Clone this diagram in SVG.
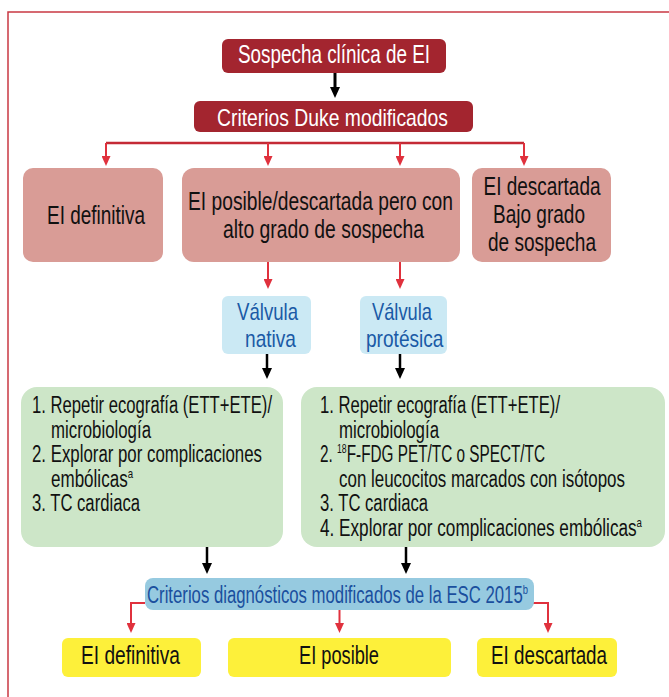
<svg xmlns="http://www.w3.org/2000/svg" width="669" height="697" viewBox="0 0 669 697">
<defs>
<style>
text{font-family:"Liberation Sans Narrow","Liberation Sans",Arial,sans-serif;}
.t25{font-size:25px;fill:#111;}
.tw{font-size:24px;fill:#fff;}
.tv{font-size:24px;fill:#1a5aa6;}
.tl{font-size:23px;fill:#111;}
.tb{font-size:23px;fill:#1a4f9e;}
.sup{font-size:13px;}
.dr{fill:#a3252f;}
.pk{fill:#d99c96;}
.lb{fill:#cbe9f4;}
.gr{fill:#cde6c8;}
.bb{fill:#96cae0;}
.ye{fill:#fdf03a;}
.rl{fill:none;stroke:#e0313d;stroke-width:2;}
.bl{fill:none;stroke:#000;stroke-width:2.5;}
</style>
<marker id="ra" viewBox="0 0 10 9" markerWidth="10" markerHeight="9" refX="2" refY="4.5" orient="auto" markerUnits="userSpaceOnUse"><path d="M0,0 L10,4.5 L0,9 z" fill="#e0313d"/></marker>
<marker id="ba" viewBox="0 0 11 10" markerWidth="11" markerHeight="10" refX="2" refY="5" orient="auto" markerUnits="userSpaceOnUse"><path d="M0,0 L11,5 L0,10 z" fill="#000"/></marker>
</defs>
<rect x="8" y="12" width="700" height="700" fill="none" stroke="#c93843" stroke-width="1.5"/>

<g id="connectors">
<path class="bl" style="stroke-width:3" d="M335,73 V89" marker-end="url(#ba)"/>
<path class="rl" style="stroke-width:2.5;stroke:#c42a35" d="M106,143 H524"/>
<path class="rl" d="M106,143 V158" marker-end="url(#ra)"/>
<path class="rl" d="M268,143 V158" marker-end="url(#ra)"/>
<path class="rl" d="M400,143 V158" marker-end="url(#ra)"/>
<path class="rl" d="M524,143 V158" marker-end="url(#ra)"/>
<path class="rl" d="M268,262 V281" marker-end="url(#ra)"/>
<path class="rl" d="M400,262 V281" marker-end="url(#ra)"/>
<path class="bl" d="M267,354 V370" marker-end="url(#ba)"/>
<path class="bl" d="M400,354 V370" marker-end="url(#ba)"/>
<path class="bl" d="M207,547 V565" marker-end="url(#ba)"/>
<path class="bl" d="M406,547 V565" marker-end="url(#ba)"/>
<path class="rl" d="M145,603 H131 V625" marker-end="url(#ra)"/>
<path class="rl" d="M339.5,610 V625" marker-end="url(#ra)"/>
<path class="rl" d="M533,603 H548 V625" marker-end="url(#ra)"/>
</g>

<g id="sospecha">
<rect class="dr" x="222" y="39" width="224" height="34" rx="6"/>
<text class="tw" style="font-size:25px" x="238" y="63" textLength="192" lengthAdjust="spacingAndGlyphs">Sospecha clínica de EI</text>
</g>
<g id="duke">
<rect class="dr" x="194" y="101" width="279" height="31" rx="6"/>
<text class="tw" x="217" y="125.5" textLength="231" lengthAdjust="spacingAndGlyphs">Criterios Duke modificados</text>
</g>

<g id="ei-definitiva-1">
<rect class="pk" x="23" y="168" width="140" height="94" rx="10"/>
<text class="t25" x="47" y="224" textLength="98" lengthAdjust="spacingAndGlyphs">EI definitiva</text>
</g>
<g id="ei-posible-1">
<rect class="pk" x="182" y="168" width="278" height="94" rx="12"/>
<text class="t25" x="188" y="210" textLength="265" lengthAdjust="spacingAndGlyphs">EI posible/descartada pero con</text>
<text class="t25" x="223" y="237.5" textLength="201" lengthAdjust="spacingAndGlyphs">alto grado de sospecha</text>
</g>
<g id="ei-descartada-1">
<rect class="pk" x="472" y="168" width="139" height="94" rx="10"/>
<text class="t25" x="483.5" y="195" textLength="117" lengthAdjust="spacingAndGlyphs">EI descartada</text>
<text class="t25" x="493" y="223" textLength="92" lengthAdjust="spacingAndGlyphs">Bajo grado</text>
<text class="t25" x="488" y="251" textLength="108" lengthAdjust="spacingAndGlyphs">de sospecha</text>
</g>

<g id="valvula-nativa">
<rect class="lb" x="222" y="296" width="89" height="58" rx="6"/>
<text class="tv" x="237" y="320" textLength="61" lengthAdjust="spacingAndGlyphs">Válvula</text>
<text class="tv" x="245" y="346.5" textLength="51" lengthAdjust="spacingAndGlyphs">nativa</text>
</g>
<g id="valvula-protesica">
<rect class="lb" x="360" y="296" width="87" height="58" rx="6"/>
<text class="tv" x="372" y="320" textLength="60" lengthAdjust="spacingAndGlyphs">Válvula</text>
<text class="tv" x="366" y="346.5" textLength="77.5" lengthAdjust="spacingAndGlyphs">protésica</text>
</g>

<g id="pasos-nativa">
<rect class="gr" x="21" y="387" width="262" height="160" rx="16"/>
<text class="tl" x="32" y="413" textLength="240" lengthAdjust="spacingAndGlyphs">1. Repetir ecografía (ETT+ETE)/</text>
<text class="tl" x="51" y="437.5" textLength="100" lengthAdjust="spacingAndGlyphs">microbiología</text>
<text class="tl" x="32" y="462" textLength="230" lengthAdjust="spacingAndGlyphs">2. Explorar por complicaciones</text>
<text class="tl" x="51" y="486.5" textLength="82" lengthAdjust="spacingAndGlyphs">embólicas<tspan class="sup" dy="-9">a</tspan></text>
<text class="tl" x="32" y="511" textLength="108" lengthAdjust="spacingAndGlyphs">3. TC cardiaca</text>
</g>
<g id="pasos-protesica">
<rect class="gr" x="301" y="387" width="364" height="160" rx="16"/>
<text class="tl" x="320" y="413" textLength="240" lengthAdjust="spacingAndGlyphs">1. Repetir ecografía (ETT+ETE)/</text>
<text class="tl" x="339" y="437.5" textLength="100" lengthAdjust="spacingAndGlyphs">microbiología</text>
<text class="tl" x="320" y="462" textLength="225" lengthAdjust="spacingAndGlyphs">2. <tspan class="sup" dy="-9">18</tspan><tspan dy="9">F-FDG PET/TC o SPECT/TC</tspan></text>
<text class="tl" x="339" y="486.5" textLength="286" lengthAdjust="spacingAndGlyphs">con leucocitos marcados con isótopos</text>
<text class="tl" x="320" y="511" textLength="108" lengthAdjust="spacingAndGlyphs">3. TC cardiaca</text>
<text class="tl" x="320" y="535.5" textLength="322" lengthAdjust="spacingAndGlyphs">4. Explorar por complicaciones embólicas<tspan class="sup" dy="-9">a</tspan></text>
</g>

<g id="criterios-esc">
<rect class="bb" x="145" y="578" width="389" height="32" rx="8"/>
<text class="tb" x="147" y="603" textLength="381" lengthAdjust="spacingAndGlyphs">Criterios diagnósticos modificados de la ESC 2015<tspan class="sup" dy="-9">b</tspan></text>
</g>

<g id="ei-definitiva-2">
<rect class="ye" x="62" y="638" width="139" height="39" rx="6"/>
<text class="t25" x="81" y="664" textLength="99" lengthAdjust="spacingAndGlyphs">EI definitiva</text>
</g>
<g id="ei-posible-2">
<rect class="ye" x="228" y="638" width="223" height="39" rx="6"/>
<text class="t25" x="299" y="664" textLength="80" lengthAdjust="spacingAndGlyphs">EI posible</text>
</g>
<g id="ei-descartada-2">
<rect class="ye" x="477" y="638" width="140" height="39" rx="6"/>
<text class="t25" x="491" y="664" textLength="116" lengthAdjust="spacingAndGlyphs">EI descartada</text>
</g>
</svg>
